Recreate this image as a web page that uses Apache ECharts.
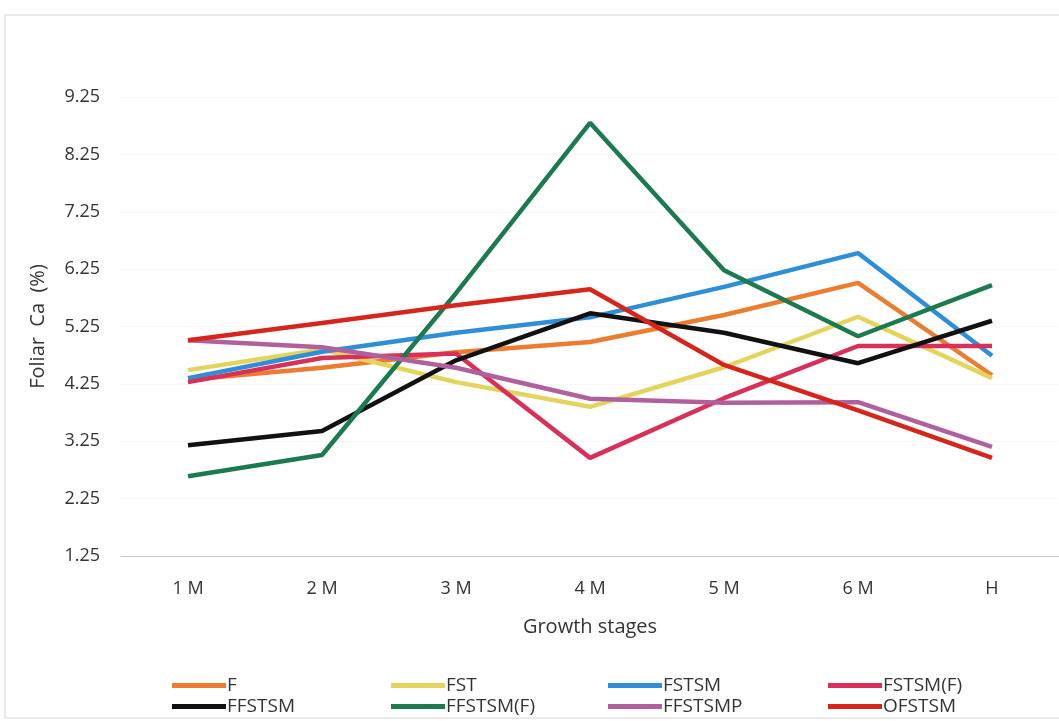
<!DOCTYPE html>
<html>
<head>
<meta charset="utf-8">
<script src="https://cdn.jsdelivr.net/npm/echarts@6/dist/echarts.min.js"></script>
<style>html,body{margin:0;padding:0;background:#fff;}#c{width:1059px;height:721px;}</style>
</head>
<body>
<div id="c"></div>
<script>
const categories = ['1 M','2 M','3 M','4 M','5 M','6 M','H'];
const yTicks = [1.25, 2.25, 3.25, 4.25, 5.25, 6.25, 7.25, 8.25, 9.25];
const F        = [4.32, 4.53, 4.80, 4.98, 5.45, 6.01, 4.40];
const FST      = [4.49, 4.85, 4.28, 3.85, 4.54, 5.42, 4.35];
const FSTSM    = [4.35, 4.81, 5.14, 5.41, 5.94, 6.53, 4.74];
const FSTSM_F  = [4.28, 4.70, 4.78, 2.96, 4.00, 4.91, 4.91];
const FFSTSM   = [3.18, 3.43, 4.66, 5.48, 5.14, 4.61, 5.35];
const FFSTSM_F = [2.64, 3.01, 5.83, 8.80, 6.23, 5.08, 5.97];
const FFSTSMP  = [5.01, 4.89, 4.53, 3.99, 3.92, 3.93, 3.15];
const OFSTSM   = [5.01, 5.31, 5.62, 5.90, 4.58, 3.79, 2.96];

const seriesDefs = [
  ['F', F, '#EC7C30'],
  ['FST', FST, '#E2D45C'],
  ['FSTSM', FSTSM, '#2E8ED8'],
  ['FSTSM(F)', FSTSM_F, '#D83058'],
  ['FFSTSM', FFSTSM, '#111111'],
  ['FFSTSM(F)', FFSTSM_F, '#1D7A50'],
  ['FFSTSMP', FFSTSMP, '#B0609C'],
  ['OFSTSM', OFSTSM, '#D6261C']
];
const font = 'Open Sans, Liberation Sans, sans-serif';
const legendCols = [[0,4],[1,5],[2,6],[3,7]];
const legendLeft = [167, 386, 603, 823];
const chart = echarts.init(document.getElementById('c'), null, {renderer:'canvas'});
chart.setOption({
  animation: false,
  backgroundColor: '#fff',
  graphic: [{type:'rect', shape:{x:5, y:15, width:1070, height:703}, style:{fill:'none', stroke:'#d4d4d4', lineWidth:1}, silent:true}],
  grid: {left:121, right:-3, top:97, bottom:165},
  xAxis: {
    type:'category', data: categories, boundaryGap:true,
    name:'Growth stages', nameLocation:'middle', nameGap:61,
    nameTextStyle:{fontFamily:font, fontSize:20, color:'#333'},
    axisLine:{lineStyle:{color:'#c8c8c8', width:1}},
    axisTick:{show:false},
    axisLabel:{fontFamily:font, fontSize:18, color:'#333', margin:24}
  },
  yAxis: {
    type:'value', min:yTicks[0], max:yTicks[yTicks.length-1], interval:1,
    name:'Foliar  Ca  (%)', nameLocation:'middle', nameGap:73,
    nameTextStyle:{fontFamily:font, fontSize:20, color:'#333'},
    axisLine:{show:false}, axisTick:{show:false},
    splitLine:{show:true, lineStyle:{color:'#f0f0f0', type:'dotted'}},
    axisLabel:{fontFamily:font, fontSize:18, color:'#333', margin:21, formatter: v => v.toFixed(2)}
  },
  legend: legendCols.map((c,i) => ({
    orient:'vertical', left: legendLeft[i], top: 671, itemGap: 2,
    itemWidth: 54, itemHeight: 5, icon:'rect',
    data: c.map(k => seriesDefs[k][0]),
    textStyle:{fontFamily:font, fontSize:19, color:'#333', padding:[0,0,0,-4]}
  })),
  series: seriesDefs.map(([name, data, color]) => ({
    name, type:'line', data, symbol:'none',
    lineStyle:{color, width:4.5}, itemStyle:{color}
  }))
});
</script>
</body>
</html>
